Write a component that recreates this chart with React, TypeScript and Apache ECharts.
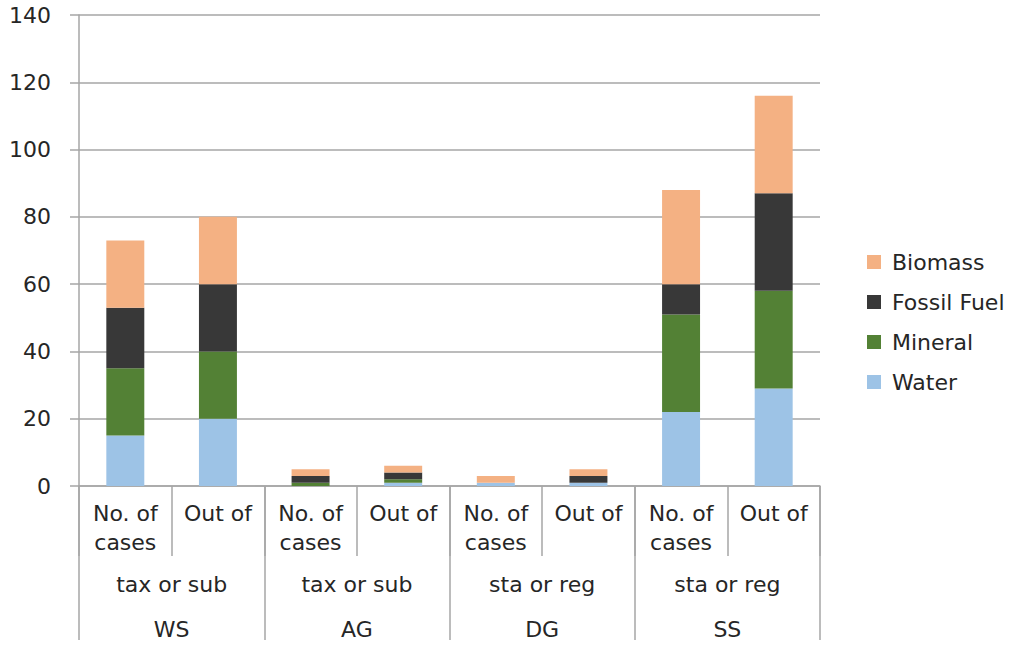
import React, { useEffect, useRef } from "react";
import * as echarts from "echarts";

const categories = ["No. of\ncases", "Out of", "No. of\ncases", "Out of", "No. of\ncases", "Out of", "No. of\ncases", "Out of"];
const policyLabels = ["tax or sub", "tax or sub", "sta or reg", "sta or reg"];
const groupLabels = ["WS", "AG", "DG", "SS"];

const water = [15, 20, 0, 1, 1, 1, 22, 29];
const mineral = [20, 20, 1, 1, 0, 0, 29, 29];
const fossilFuel = [18, 20, 2, 2, 0, 2, 9, 29];
const biomass = [20, 20, 2, 2, 2, 2, 28, 29];

const yTicks = { min: 0, max: 140, interval: 20 };

const FONT = "DejaVu Sans";
const TEXT = "#262626";
const GRID = "#a6a6a6";
const FS = 22;

export default function App() {
  const ref = useRef<HTMLDivElement>(null);
  useEffect(() => {
    if (!ref.current) return;
    const chart = echarts.init(ref.current, undefined, { renderer: "svg" });
    const mk = (name: string, data: number[], color: string) => ({
      name,
      type: "bar",
      stack: "total",
      data,
      barWidth: "41%",
      itemStyle: { color },
      xAxisIndex: 0,
    });
    chart.setOption({
      animation: false,
      backgroundColor: "#ffffff",
      textStyle: { fontFamily: FONT, color: TEXT },
      grid: { left: 79, right: 204, top: 15, bottom: 162, containLabel: false },
      legend: {
        data: ["Biomass", "Fossil Fuel", "Mineral", "Water"],
        orient: "vertical",
        left: 862,
        top: 246,
        itemWidth: 14,
        itemHeight: 14,
        itemGap: 18,
        icon: "rect",
        textStyle: { fontFamily: FONT, fontSize: FS, color: TEXT, lineHeight: 22, padding: [0, 0, 0, 6] },
      },
      xAxis: [
        {
          type: "category",
          position: "bottom",
          data: categories,
          axisLine: { show: true, lineStyle: { color: GRID, width: 1.5 } },
          axisTick: { show: true, interval: 0, length: 70, alignWithLabel: false, lineStyle: { color: GRID, width: 1.5 } },
          axisLabel: { interval: 0, margin: 13, fontFamily: FONT, fontSize: FS, color: TEXT, lineHeight: 29 },
        },
        {
          type: "category",
          position: "bottom",
          offset: 0,
          data: policyLabels,
          axisLine: { show: false },
          axisTick: { show: true, interval: 0, length: 154, alignWithLabel: false, lineStyle: { color: GRID, width: 1.5 } },
          axisLabel: { interval: 0, margin: 86, fontFamily: FONT, fontSize: FS, color: TEXT, lineHeight: 24 },
        },
        {
          type: "category",
          position: "bottom",
          offset: 0,
          data: groupLabels,
          axisLine: { show: false },
          axisTick: { show: false },
          axisLabel: { interval: 0, margin: 131, fontFamily: FONT, fontSize: FS, color: TEXT, lineHeight: 24 },
        },
      ],
      yAxis: {
        type: "value",
        min: yTicks.min,
        max: yTicks.max,
        interval: yTicks.interval,
        axisLine: { show: true, lineStyle: { color: GRID, width: 1.5 } },
        axisTick: { show: true, length: 9, lineStyle: { color: GRID, width: 1.5 } },
        axisLabel: { margin: 28, fontFamily: FONT, fontSize: FS, color: TEXT },
        splitLine: { show: true, lineStyle: { color: GRID, width: 1.5 } },
      },
      series: [
        mk("Water", water, "#9dc3e6"),
        mk("Mineral", mineral, "#538135"),
        mk("Fossil Fuel", fossilFuel, "#383838"),
        mk("Biomass", biomass, "#f4b183"),
      ],
    });
    return () => chart.dispose();
  }, []);
  return <div ref={ref} style={{ position: "fixed", left: 0, top: 0, width: 1024, height: 648 }} />;
}
